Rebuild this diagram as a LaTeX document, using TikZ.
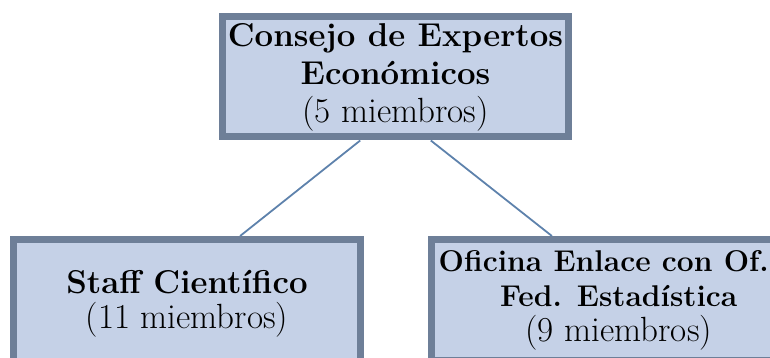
\documentclass[tikz,border=0pt]{standalone}
\usetikzlibrary{calc}
\definecolor{borde}{HTML}{6E7F98}
\definecolor{relleno}{HTML}{C5D1E7}
\definecolor{enlace}{HTML}{5E82AC}
\newcommand{\miembros}[1]{{\fontsize{35}{35}\selectfont(#1 miembros)}}
\begin{document}
\begin{tikzpicture}[x=1pt,y=-1pt,
    caja/.style={draw=borde,fill=relleno,line width=7pt,align=center,inner sep=0pt},
    linea/.style={draw=enlace,line width=1.8pt}]
        \useasboundingbox (0,0) rectangle (770,358);
        \clip (0,0) rectangle (770,358);
        \node[caja,minimum width=346pt,minimum height=120pt,font=\fontsize{33}{38}\selectfont] (consejo) at (395.5,77)
            {\textbf{Consejo de Expertos}\\ \textbf{Económicos}\\ \miembros{5}};
        \node[caja,minimum width=347pt,minimum height=129pt,font=\fontsize{33}{35}\selectfont] (staff) at (187,304)
            {\textbf{Staff Científico}\\ \miembros{11}};
        \node[caja,minimum width=375pt,minimum height=121pt,font=\fontsize{30}{35}\selectfont] (oficina) at (618.75,300)
            {\textbf{Oficina Enlace con Of.}\hspace*{30pt}\\ \textbf{Fed. Estadística}\\ \miembros{9}};
        \draw[linea] ($(consejo.south)!0.2!(consejo.south west)$) -- ($(staff.north)!0.3!(staff.north east)$);
        \draw[linea] ($(consejo.south)!0.2!(consejo.south east)$) -- ($(oficina.north)!0.35!(oficina.north west)$);
    \end{tikzpicture}
\end{document}
